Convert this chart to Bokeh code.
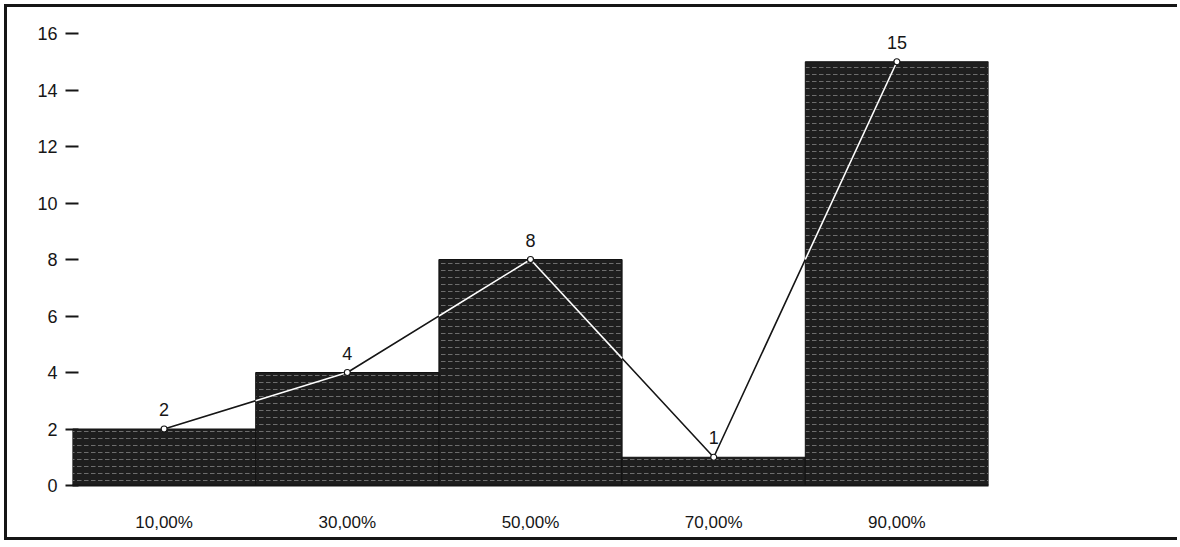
from bokeh.plotting import figure
from bokeh.models import FixedTicker, Range1d, ColumnDataSource
from bokeh.core.properties import value
from bokeh.embed import file_html
from bokeh.resources import INLINE

# --- data ---
class_labels = ["10,00%", "30,00%", "50,00%", "70,00%", "90,00%"]
class_mids = [10, 30, 50, 70, 90]
counts = [2, 4, 8, 1, 15]
class_width = 20
y_ticks = [0, 2, 4, 6, 8, 10, 12, 14, 16]

FONT = "Liberation Sans"
INK = "#161616"

src = ColumnDataSource(dict(x=class_mids, top=counts, lab=[str(c) for c in counts]))


def clip(x0, y0, x1, y1, xmin, xmax, ymin, ymax):
    """Liang-Barsky clip of a segment to a rectangle."""
    dx, dy = x1 - x0, y1 - y0
    t0, t1 = 0.0, 1.0
    for pv, qv in ((-dx, x0 - xmin), (dx, xmax - x0), (-dy, y0 - ymin), (dy, ymax - y0)):
        if pv == 0:
            if qv < 0:
                return None
            continue
        r = qv / pv
        if pv < 0:
            t0 = max(t0, r)
        else:
            t1 = min(t1, r)
        if t0 > t1:
            return None
    return [x0 + t0 * dx, x0 + t1 * dx], [y0 + t0 * dy, y0 + t1 * dy]


# parts of the frequency polygon that run across the dark bars (drawn white)
inner_xs, inner_ys = [], []
for i in range(len(class_mids) - 1):
    for m, c in zip(class_mids, counts):
        seg = clip(class_mids[i], counts[i], class_mids[i + 1], counts[i + 1],
                   m - class_width / 2, m + class_width / 2, 0, c)
        if seg and abs(seg[0][1] - seg[0][0]) > 1e-9:
            inner_xs.append(seg[0])
            inner_ys.append(seg[1])

p = figure(width=1173, height=536, output_backend="svg", toolbar_location=None,
           x_range=Range1d(0, 100), y_range=Range1d(0, 16),
           min_border_left=65, min_border_right=192, min_border_top=26, min_border_bottom=58)
p.styles = {"margin-left": "4px", "margin-top": "4px",
            "border-left": "3px solid #161616", "border-top": "3px solid #161616",
            "border-bottom": "3px solid #161616"}
p.outline_line_color = None
p.xgrid.grid_line_color = None
p.ygrid.grid_line_color = None
p.background_fill_color = "white"
p.border_fill_color = "white"

# histogram bars
p.vbar(x="x", top="top", width=class_width, bottom=0, source=src,
       fill_color="#1e1e1e", line_color="#111111", line_width=1,
       hatch_pattern="horizontal_dash", hatch_color="white", hatch_alpha=0.35,
       hatch_scale=7, hatch_weight=1)

# frequency polygon: black over white background, white across the bars
p.line(x="x", y="top", source=src, line_color=INK, line_width=1.6)
p.multi_line(xs=inner_xs, ys=inner_ys, line_color="white", line_width=1.6)

# markers
p.scatter(x="x", y="top", source=src, size=6, marker="circle",
          fill_color="white", line_color=INK, line_width=1.2)

# value labels
p.text(x="x", y="top", text="lab", source=src, text_align="center",
       text_baseline="bottom", y_offset=-13, text_font=value(FONT),
       text_font_size="18px", text_color=INK)

# axes
xa = p.xaxis[0]
xa.ticker = FixedTicker(ticks=class_mids)
xa.major_label_overrides = {m: l for m, l in zip(class_mids, class_labels)}
xa.major_tick_line_color = None
xa.minor_tick_line_color = None
xa.axis_line_color = INK
xa.axis_line_width = 2
xa.major_label_standoff = 21
xa.major_label_text_font = FONT
xa.major_label_text_font_size = "17px"
xa.major_label_text_color = INK

ya = p.yaxis[0]
ya.ticker = FixedTicker(ticks=y_ticks)
ya.axis_line_color = None
ya.minor_tick_line_color = None
ya.major_tick_in = 6
ya.major_tick_out = 7
ya.major_tick_line_width = 2
ya.major_tick_line_color = INK
ya.major_label_standoff = 8
ya.major_label_text_baseline = "top"
ya.major_label_text_font = FONT
ya.major_label_text_font_size = "18px"
ya.major_label_text_color = INK

open("out.html", "w").write(file_html(p, INLINE))
